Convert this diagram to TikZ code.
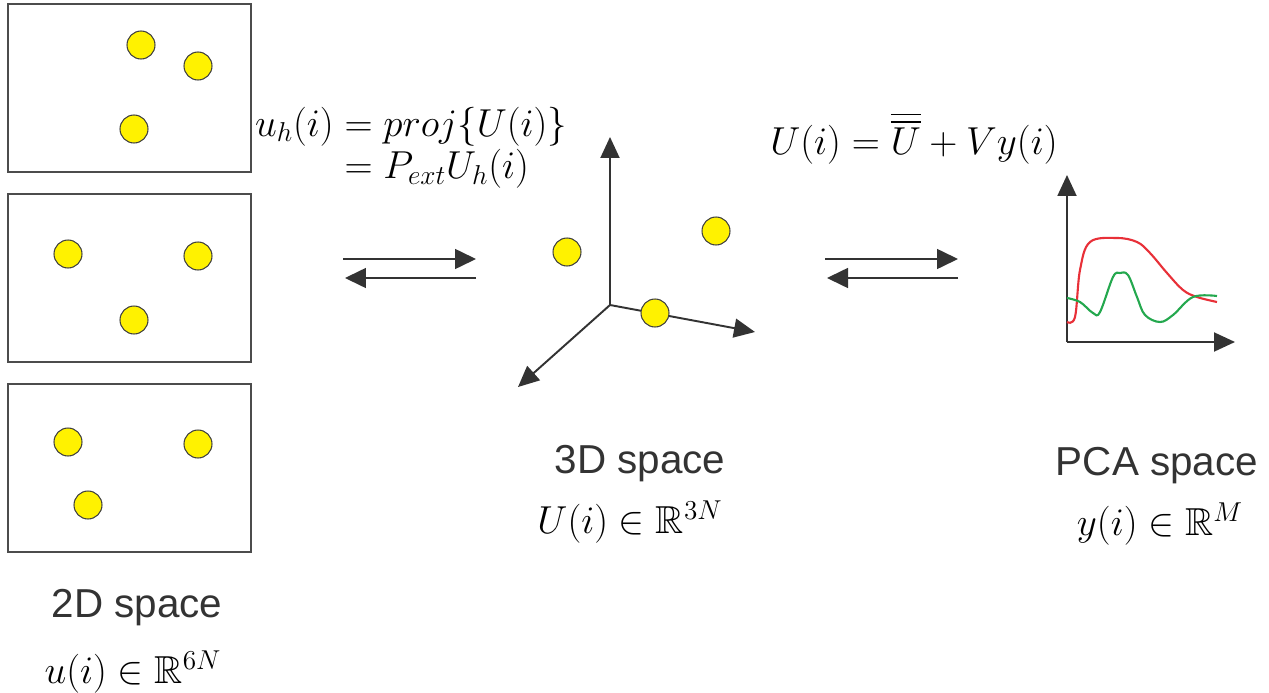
\RequirePackage{fix-cm}
\documentclass[tikz,border=0pt]{standalone}
\usepackage{amsmath}
\usepackage{amssymb}
\usepackage{fontspec}
\newfontfamily\labelfont{Liberation Sans}
\usetikzlibrary{arrows.meta}
\definecolor{curvered}{RGB}{232,48,56}
\definecolor{curvegreen}{RGB}{36,168,78}

\begin{document}
\begin{tikzpicture}[x=0.02cm, y=-0.02cm,
  ball/.style={circle, draw=black!75, fill=yellow, line width=0.6pt, minimum size=0.56cm, inner sep=0pt},
  panel/.style={draw=black!70, line width=0.9pt},
  axis/.style={draw=black!80, line width=1.1pt, -{Triangle[length=0.42cm, width=0.38cm]}},
  swap/.style={draw=black!80, line width=0.9pt, -{Triangle[length=0.42cm, width=0.4cm]}},
  caption/.style={font=\labelfont\fontsize{23}{27}\selectfont, text=black!80},
  formula/.style={font=\fontsize{22.2}{26}\selectfont}]
  \useasboundingbox (0, 0) rectangle (1269, 693);
  % 2D views
  \draw[panel] (8, 4) rectangle (251, 172);
  \draw[panel] (8, 194) rectangle (251, 362);
  \draw[panel] (8, 384) rectangle (251, 552);
  \node[ball] (ua1) at (141, 45) {};
  \node[ball] (ua2) at (198, 66) {};
  \node[ball] (ua3) at (134, 129) {};
  \node[ball] (ub1) at (68, 254) {};
  \node[ball] (ub2) at (198, 256) {};
  \node[ball] (ub3) at (134, 320) {};
  \node[ball] (uc1) at (68, 442) {};
  \node[ball] (uc2) at (198, 444) {};
  \node[ball] (uc3) at (88, 505) {};
  % arrows between spaces
  \coordinate (L1) at (343, 259);
  \coordinate (L2) at (476, 259);
  \coordinate (L3) at (476, 278);
  \coordinate (L4) at (345, 278);
  \draw[swap] (L1) -- (L2);
  \draw[swap] (L3) -- (L4);
  \coordinate (R1) at (825, 259);
  \coordinate (R2) at (958, 259);
  \coordinate (R3) at (958, 278);
  \coordinate (R4) at (827, 278);
  \draw[swap] (R1) -- (R2);
  \draw[swap] (R3) -- (R4);
  % 3D axes
  \coordinate (O) at (610, 305);
  \coordinate (Z) at (610, 137);
  \coordinate (X) at (755, 332);
  \coordinate (Y) at (518, 387);
  \draw[axis] (O) -- (Z);
  \draw[axis] (O) -- (X);
  \draw[axis] (O) -- (Y);
  \node[ball] (U1) at (567, 252) {};
  \node[ball] (U2) at (716, 231) {};
  \node[ball] (U3) at (655, 313) {};
  % PCA chart
  \coordinate (P) at (1067, 342);
  \coordinate (PY) at (1067, 175);
  \coordinate (PX) at (1235, 342);
  \draw[axis] (P) -- (PY);
  \draw[axis] (P) -- (PX);
  \draw[curvered, line width=1.2pt] plot[smooth, tension=0.6] coordinates {(1067, 322) (1075, 317) (1080, 270) (1090, 242) (1117, 238) (1137, 242) (1150, 253) (1167, 273) (1183, 290) (1197, 297) (1217, 302)};
  \draw[curvegreen, line width=1.2pt] plot[smooth, tension=0.6] coordinates {(1067, 298) (1080, 302) (1093, 313) (1100, 312) (1113, 277) (1120, 273) (1128, 275) (1137, 297) (1145, 315) (1160, 322) (1173, 315) (1193, 297) (1217, 296)};
  % texts
  \node[formula] (proj) at (411, 148) {$\begin{aligned} u_h(i) &= proj\{U(i)\}\\[-5pt] &= P_{ext}U_h(i)\end{aligned}$};
  \node[formula] (recon) at (914, 138) {$U(i) = \overline{\overline{U}} + Vy(i)$};
  \node[caption] (cap2d) at (137, 608) {2D space};
  \node[formula] (set2d) at (133, 672) {$u(i) \in \mathbb{R}^{6N}$};
  \node[caption] (cap3d) at (640, 464) {3D space};
  \node[formula] (set3d) at (630, 522) {$U(i) \in \mathbb{R}^{3N}$};
  \node[caption] (cappca) at (1157, 466) {PCA space};
  \node[formula] (setpca) at (1160, 524) {$y(i) \in \mathbb{R}^{M}$};
\end{tikzpicture}
\end{document}
